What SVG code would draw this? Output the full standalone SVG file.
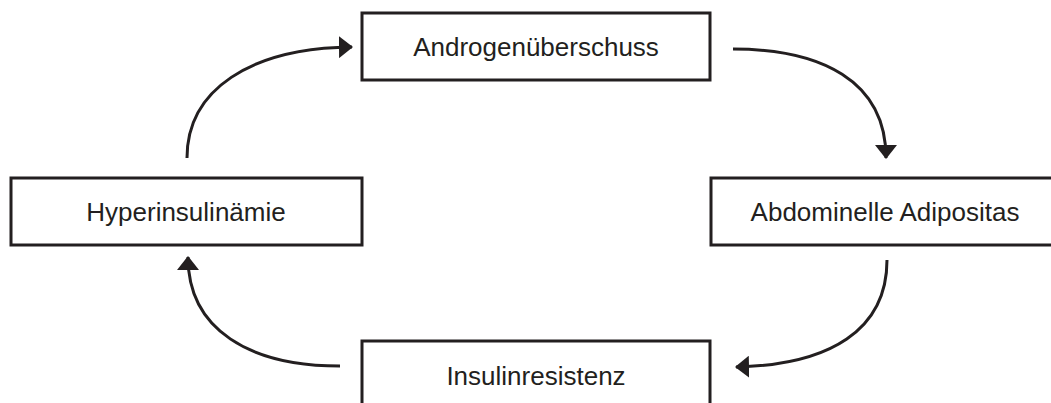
<svg xmlns="http://www.w3.org/2000/svg" width="1051" height="403" viewBox="0 0 1051 403">
<style>
.box{fill:#fff;stroke:#231f20;stroke-width:3}
.lbl{font-family:"Liberation Sans",Arial,sans-serif;font-size:26px;fill:#231f20;text-anchor:middle}
.conn{fill:none;stroke:#231f20;stroke-width:3}
</style>
<defs>
<marker id="ah" viewBox="0 0 14 22" refX="13" refY="11" markerWidth="14" markerHeight="22" markerUnits="userSpaceOnUse" orient="auto">
<path d="M0,0 L14,11 L0,22 Z" fill="#231f20"/>
</marker>
</defs>
<rect width="1051" height="403" fill="#fff"/>
<g id="n-androgen"><rect class="box" x="362" y="13" width="348" height="67"/><text class="lbl" x="536" y="56">Androgenüberschuss</text></g>
<g id="n-hyper"><rect class="box" x="11" y="178" width="351" height="67"/><text class="lbl" x="186" y="221">Hyperinsulinämie</text></g>
<g id="n-abdom"><rect class="box" x="711" y="178" width="345" height="67"/><text class="lbl" x="885" y="221">Abdominelle Adipositas</text></g>
<g id="n-insulin"><rect class="box" x="362" y="341" width="348" height="80"/><text class="lbl" x="536" y="385">Insulinresistenz</text></g>
<g id="connectors">
<path class="conn" marker-end="url(#ah)" d="M187,158 C187,90 250,48 352,47"/>
<path class="conn" marker-end="url(#ah)" d="M733,49 C820,49 886,80 886,158"/>
<path class="conn" marker-end="url(#ah)" d="M887,260 C887,330 830,365 736,367"/>
<path class="conn" marker-end="url(#ah)" d="M340,366 C250,366 188,330 188,257"/>
</g>
</svg>
